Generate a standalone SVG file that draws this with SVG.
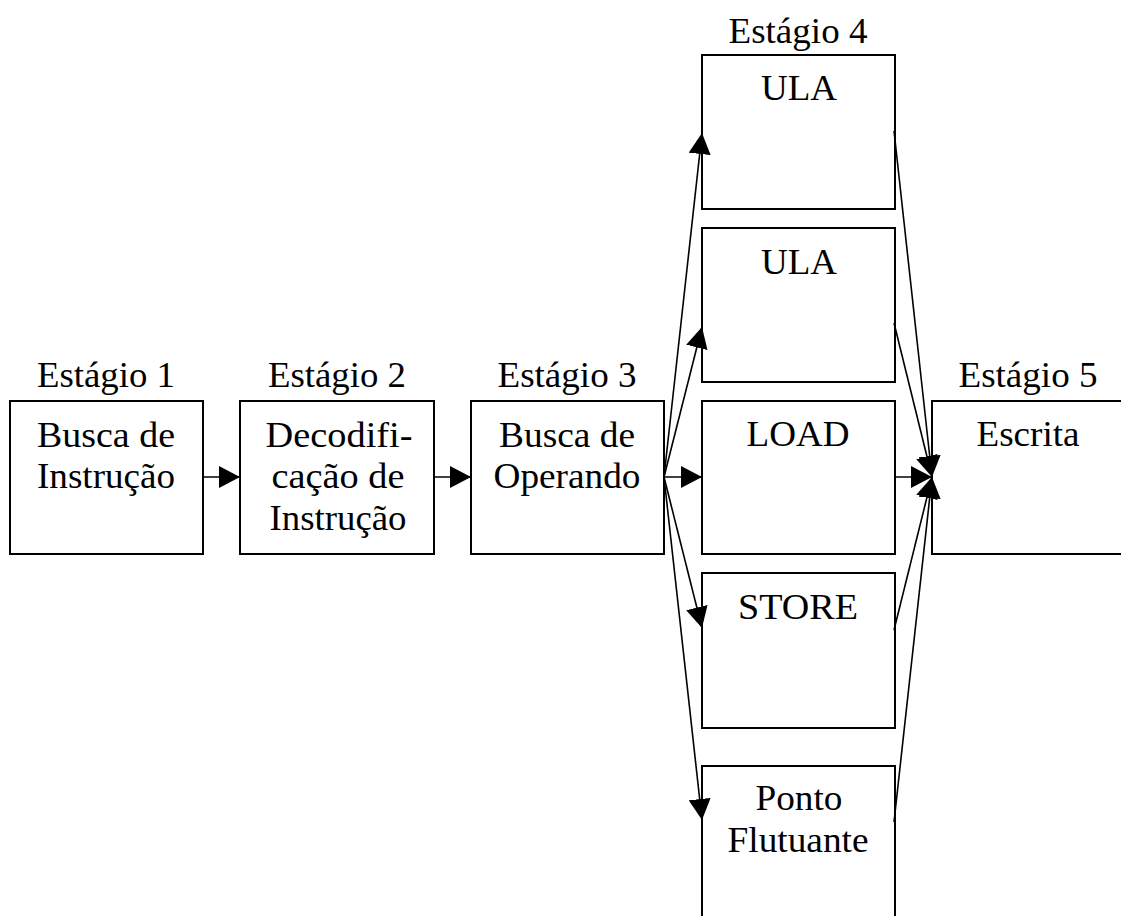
<svg xmlns="http://www.w3.org/2000/svg" width="1121" height="916" viewBox="0 0 1121 916">
<style>
.box{fill:#fff;stroke:#000;stroke-width:2}
.t{font-family:"Liberation Serif","Times New Roman",serif;font-size:36px;fill:#000;text-anchor:middle}
.c{stroke:#000;stroke-width:1.6;fill:none;marker-end:url(#ah)}
</style>
<defs>
<marker id="ah" markerUnits="userSpaceOnUse" markerWidth="21" markerHeight="22" refX="21" refY="11" orient="auto" viewBox="0 0 21 22">
<path d="M0,0 L21,11 L0,22 z" fill="#000"/>
</marker>
</defs>
<rect width="1121" height="916" fill="#fff"/>
<g id="labels">
<text class="t" x="106" y="387" textLength="138" lengthAdjust="spacingAndGlyphs">Estágio 1</text>
<text class="t" x="337" y="387" textLength="138" lengthAdjust="spacingAndGlyphs">Estágio 2</text>
<text class="t" x="567" y="387" textLength="139" lengthAdjust="spacingAndGlyphs">Estágio 3</text>
<text class="t" x="798" y="43" textLength="139" lengthAdjust="spacingAndGlyphs">Estágio 4</text>
<text class="t" x="1028" y="387" textLength="139" lengthAdjust="spacingAndGlyphs">Estágio 5</text>
</g>
<g id="n1"><rect class="box" x="10" y="401" width="193" height="153"/>
<text class="t" x="106" y="447" textLength="138" lengthAdjust="spacingAndGlyphs">Busca de</text><text class="t" x="106" y="488" textLength="138" lengthAdjust="spacingAndGlyphs">Instrução</text></g>
<g id="n2"><rect class="box" x="240" y="401" width="194" height="153"/>
<text class="t" x="339" y="447" textLength="147" lengthAdjust="spacingAndGlyphs">Decodifi-</text><text class="t" x="338" y="488" textLength="133" lengthAdjust="spacingAndGlyphs">cação de</text><text class="t" x="338" y="530" textLength="137" lengthAdjust="spacingAndGlyphs">Instrução</text></g>
<g id="n3"><rect class="box" x="471" y="401" width="193" height="153"/>
<text class="t" x="567" y="447" textLength="136" lengthAdjust="spacingAndGlyphs">Busca de</text><text class="t" x="567" y="488" textLength="147" lengthAdjust="spacingAndGlyphs">Operando</text></g>
<g id="ula1"><rect class="box" x="702" y="55" width="193" height="154"/>
<text class="t" x="799" y="100" textLength="76" lengthAdjust="spacingAndGlyphs">ULA</text></g>
<g id="ula2"><rect class="box" x="702" y="228" width="193" height="154"/>
<text class="t" x="799" y="274" textLength="76" lengthAdjust="spacingAndGlyphs">ULA</text></g>
<g id="load"><rect class="box" x="702" y="401" width="193" height="153"/>
<text class="t" x="798" y="446" textLength="103" lengthAdjust="spacingAndGlyphs">LOAD</text></g>
<g id="store"><rect class="box" x="702" y="573" width="193" height="155"/>
<text class="t" x="798" y="619" textLength="120" lengthAdjust="spacingAndGlyphs">STORE</text></g>
<g id="fp"><rect class="box" x="702" y="766" width="193" height="170"/>
<text class="t" x="799" y="810" textLength="87" lengthAdjust="spacingAndGlyphs">Ponto</text><text class="t" x="798" y="852" textLength="141" lengthAdjust="spacingAndGlyphs">Flutuante</text></g>
<g id="n5"><rect class="box" x="932" y="401" width="210" height="153"/>
<text class="t" x="1028" y="446" textLength="103" lengthAdjust="spacingAndGlyphs">Escrita</text></g>
<g id="connectors">
<line class="c" x1="203" y1="477" x2="240" y2="477"/>
<line class="c" x1="434" y1="477" x2="471" y2="477"/>
<line class="c" x1="664" y1="477" x2="702" y2="133"/>
<line class="c" x1="664" y1="477" x2="702" y2="327"/>
<line class="c" x1="664" y1="477" x2="702" y2="477"/>
<line class="c" x1="664" y1="477" x2="702" y2="628"/>
<line class="c" x1="664" y1="477" x2="702" y2="820"/>
<line class="c" x1="894" y1="131" x2="932" y2="477"/>
<line class="c" x1="894" y1="323" x2="932" y2="477"/>
<line class="c" x1="894" y1="477" x2="932" y2="477"/>
<line class="c" x1="894" y1="630" x2="932" y2="477"/>
<line class="c" x1="894" y1="822" x2="932" y2="477"/>
</g>
</svg>
